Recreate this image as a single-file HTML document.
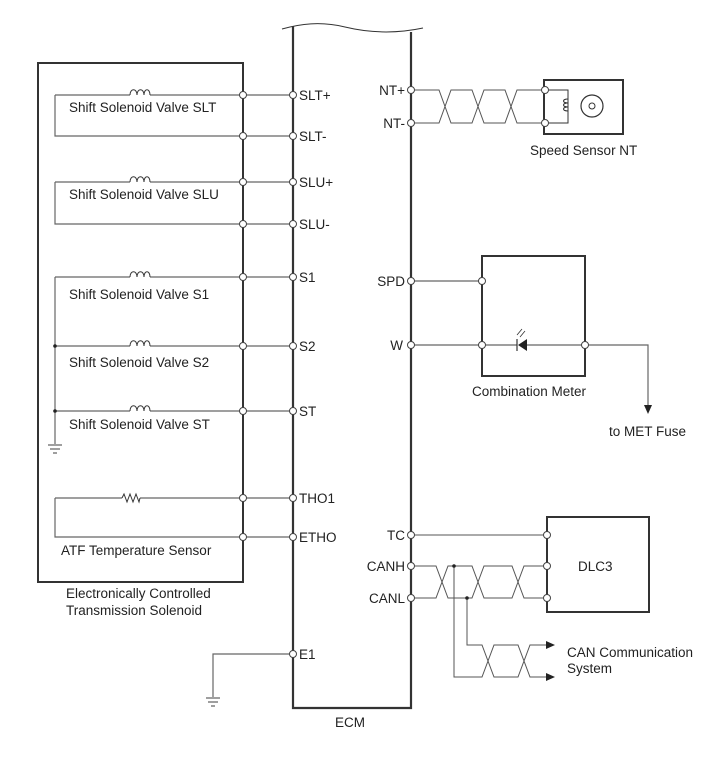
<!DOCTYPE html>
<html><head><meta charset="utf-8"><style>
html,body{margin:0;padding:0;background:#fff;}
svg{display:block;}
text{font-family:"Liberation Sans",Arial,sans-serif;font-size:13.5px;fill:#222;}
</style></head><body>
<svg width="713" height="782" viewBox="0 0 713 782" xmlns="http://www.w3.org/2000/svg">
<g fill="none" stroke="#333">
<path d="M282,29 C300,24 320,21 345,27 C370,33 395,34 423,28" stroke-width="1"/>
<path d="M293,26 V708 H411 V32" stroke-width="2.2"/>
<rect x="38" y="63" width="205" height="519" stroke-width="2"/>
<g stroke="#666" stroke-width="1.2">
<path d="M55,95 H130 M150,95 H293"/>
<path d="M55,95 V136 H293"/>
<path d="M55,182 H130 M150,182 H293"/>
<path d="M55,182 V224 H293"/>
<path d="M55,277 H130 M150,277 H293"/>
<path d="M55,346 H130 M150,346 H293"/>
<path d="M55,411 H130 M150,411 H293"/>
<path d="M55,277 V444"/>
<path d="M48,445 H62 M50,449 H60 M53,453 H57"/>
<path d="M55,498 H122 M140,498 H293"/>
<path d="M55,498 V537 H293"/>
<path d="M293,654 H213 V697"/>
<path d="M206,698 H220 M208,702 H218 M211,706 H215"/>
</g>
<g stroke="#333" stroke-width="1">
<path d="M130,95 c0,-7 7,-7 7,0 c0,-7 7,-7 7,0 c0,-7 6,-7 6,0"/>
<path d="M130,182 c0,-7 7,-7 7,0 c0,-7 7,-7 7,0 c0,-7 6,-7 6,0"/>
<path d="M130,277 c0,-7 7,-7 7,0 c0,-7 7,-7 7,0 c0,-7 6,-7 6,0"/>
<path d="M130,346 c0,-7 7,-7 7,0 c0,-7 7,-7 7,0 c0,-7 6,-7 6,0"/>
<path d="M130,411 c0,-7 7,-7 7,0 c0,-7 7,-7 7,0 c0,-7 6,-7 6,0"/>
<path d="M122,498 l2,-4 l3,8 l3,-8 l3,8 l3,-8 l3,8 l1,-4"/>
</g>
<g stroke="#555" stroke-width="1">
<path d="M411,90 H439 L451,123 H472 L484,90 H505 L517,123 H545"/>
<path d="M411,123 H439 L451,90 H472 L484,123 H505 L517,90 H545"/>
</g>
<rect x="544" y="80" width="79" height="54" stroke-width="2"/>
<path d="M545,90 H568 V123 H545" stroke-width="1"/>
<path d="M568,99 c-6,0 -6,4 0,4 c-6,0 -6,4 0,4 c-6,0 -6,4 0,4" stroke-width="1"/>
<circle cx="592" cy="106" r="11" stroke-width="1.2"/>
<circle cx="592" cy="106" r="3" stroke-width="1"/>
<rect x="482" y="256" width="103" height="120" stroke-width="2"/>
<g stroke="#666" stroke-width="1.2">
<path d="M411,281 H482"/>
<path d="M411,345 H517 M527,345 H648 V406"/>
</g>
<path d="M517,339 V351" stroke-width="1.2"/>
<path d="M518,345 L527,339 V351 Z" fill="#222" stroke="none"/>
<path d="M517,335 l5,-6 M520,337 l5,-6" stroke-width="0.8"/>
<path d="M644,405 H652 L648,414 Z" fill="#222" stroke="none"/>
<rect x="547" y="517" width="102" height="95" stroke-width="2"/>
<g stroke="#555" stroke-width="1">
<path d="M411,535 H547"/>
<path d="M411,566 H436 L448,598 H472 L484,566 H512 L524,598 H547"/>
<path d="M411,598 H436 L448,566 H472 L484,598 H512 L524,566 H547"/>
<path d="M454,566 V677 H482 L494,645 H518 L530,677 H548"/>
<path d="M467,598 V645 H482 L494,677 H518 L530,645 H548"/>
</g>
<path d="M546,641 L555,645 L546,649 Z M546,673 L555,677 L546,681 Z" fill="#222" stroke="none"/>
<circle cx="454" cy="566" r="1.8" fill="#222" stroke="none"/>
<circle cx="467" cy="598" r="1.8" fill="#222" stroke="none"/>
<circle cx="55" cy="346" r="1.8" fill="#222" stroke="none"/>
<circle cx="55" cy="411" r="1.8" fill="#222" stroke="none"/>
<g fill="#fff" stroke="#444" stroke-width="1">
<circle cx="243" cy="95" r="3.5"/><circle cx="293" cy="95" r="3.5"/>
<circle cx="243" cy="136" r="3.5"/><circle cx="293" cy="136" r="3.5"/>
<circle cx="243" cy="182" r="3.5"/><circle cx="293" cy="182" r="3.5"/>
<circle cx="243" cy="224" r="3.5"/><circle cx="293" cy="224" r="3.5"/>
<circle cx="243" cy="277" r="3.5"/><circle cx="293" cy="277" r="3.5"/>
<circle cx="243" cy="346" r="3.5"/><circle cx="293" cy="346" r="3.5"/>
<circle cx="243" cy="411" r="3.5"/><circle cx="293" cy="411" r="3.5"/>
<circle cx="243" cy="498" r="3.5"/><circle cx="293" cy="498" r="3.5"/>
<circle cx="243" cy="537" r="3.5"/><circle cx="293" cy="537" r="3.5"/>
<circle cx="293" cy="654" r="3.5"/>
<circle cx="411" cy="90" r="3.5"/><circle cx="411" cy="123" r="3.5"/>
<circle cx="545" cy="90" r="3.5"/><circle cx="545" cy="123" r="3.5"/>
<circle cx="411" cy="281" r="3.5"/><circle cx="482" cy="281" r="3.5"/>
<circle cx="411" cy="345" r="3.5"/><circle cx="482" cy="345" r="3.5"/><circle cx="585" cy="345" r="3.5"/>
<circle cx="411" cy="535" r="3.5"/><circle cx="547" cy="535" r="3.5"/>
<circle cx="411" cy="566" r="3.5"/><circle cx="547" cy="566" r="3.5"/>
<circle cx="411" cy="598" r="3.5"/><circle cx="547" cy="598" r="3.5"/>
</g>
</g>
<text x="69" y="112">Shift Solenoid Valve SLT</text>
<text x="69" y="199">Shift Solenoid Valve SLU</text>
<text x="69" y="299">Shift Solenoid Valve S1</text>
<text x="69" y="367">Shift Solenoid Valve S2</text>
<text x="69" y="429">Shift Solenoid Valve ST</text>
<text x="61" y="555">ATF Temperature Sensor</text>
<text x="66" y="598">Electronically Controlled</text>
<text x="66" y="615">Transmission Solenoid</text>
<text x="299" y="100">SLT+</text>
<text x="299" y="141">SLT-</text>
<text x="299" y="187">SLU+</text>
<text x="299" y="229">SLU-</text>
<text x="299" y="282">S1</text>
<text x="299" y="351">S2</text>
<text x="299" y="416">ST</text>
<text x="299" y="503">THO1</text>
<text x="299" y="542">ETHO</text>
<text x="299" y="659">E1</text>
<text x="335" y="727">ECM</text>
<text x="405" y="95" text-anchor="end">NT+</text>
<text x="405" y="128" text-anchor="end">NT-</text>
<text x="405" y="286" text-anchor="end">SPD</text>
<text x="403" y="350" text-anchor="end">W</text>
<text x="405" y="540" text-anchor="end">TC</text>
<text x="405" y="571" text-anchor="end">CANH</text>
<text x="405" y="603" text-anchor="end">CANL</text>
<text x="530" y="155">Speed Sensor NT</text>
<text x="472" y="396">Combination Meter</text>
<text x="609" y="436">to MET Fuse</text>
<text x="578" y="571" font-size="14">DLC3</text>
<text x="567" y="657">CAN Communication</text>
<text x="567" y="673">System</text>
</svg>
</body></html>
